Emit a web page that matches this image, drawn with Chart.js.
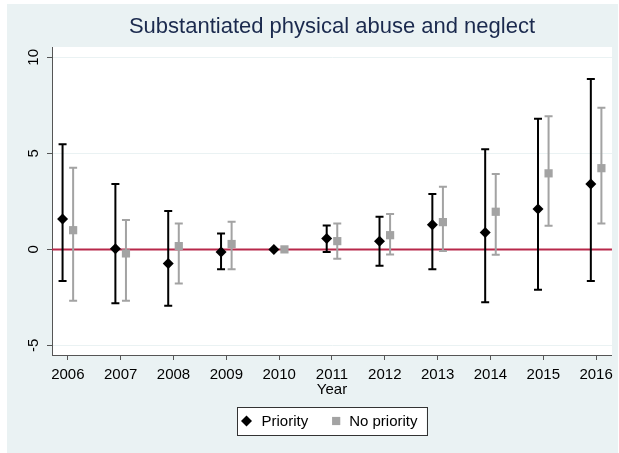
<!DOCTYPE html>
<html>
<head>
<meta charset="utf-8">
<script src="https://cdn.jsdelivr.net/npm/chart.js@4.4.1/dist/chart.umd.min.js"></script>
<style>
  html, body { margin: 0; padding: 0; background: #ffffff; }
  #wrap { width: 619px; height: 453px; }
</style>
</head>
<body>
<div id="wrap"><canvas id="chart" width="619" height="453"></canvas></div>
<script>
// Year-by-year estimates with 95% confidence limits
const years = [2006, 2007, 2008, 2009, 2010, 2011, 2012, 2013, 2014, 2015, 2016];

const priorityEst  = [1.58, 0.03, -0.73, -0.14, 0.00, 0.57, 0.43, 1.28, 0.88, 2.10, 3.40];
const priorityLow  = [-1.65, -2.81, -2.93, -1.04, null, -0.14, -0.85, -1.04, -2.75, -2.10, -1.65];
const priorityHigh = [5.47, 3.40, 2.00, 0.83, null, 1.25, 1.70, 2.88, 5.22, 6.80, 8.87];

const noPriorityEst  = [1.00, -0.21, 0.17, 0.28, 0.00, 0.43, 0.74, 1.42, 1.96, 3.96, 4.23];
const noPriorityLow  = [-2.67, -2.67, -1.77, -1.03, null, -0.49, -0.26, -0.09, -0.28, 1.23, 1.35];
const noPriorityHigh = [4.25, 1.53, 1.35, 1.44, null, 1.35, 1.84, 3.26, 3.92, 6.94, 7.38];

const yTicks = [-5, 0, 5, 10];

const FONT = "'Liberation Sans', Arial, Helvetica, sans-serif";
const GRAPH_BG = '#EAF2F3';
const PRIORITY_COLOR = '#000000';
const NOPRIORITY_COLOR = '#A3A3A3';

// Points are nudged left/right of each year so the two series sit side by side
const points = (est, shift) => years.map((yr, i) => ({ x: yr + shift, y: est[i] }));

// Backgrounds: outer graph region and white plot region
const backdrop = {
  id: 'backdrop',
  beforeDraw(chart) {
    const { ctx, chartArea: a, width, height } = chart;
    ctx.save();
    ctx.fillStyle = '#ffffff';
    ctx.fillRect(0, 0, width, height);
    ctx.fillStyle = GRAPH_BG;
    ctx.fillRect(7, 4, width - 8, height - 4);
    ctx.fillStyle = '#ffffff';
    ctx.fillRect(a.left, a.top, a.right - a.left, a.bottom - a.top);
    ctx.restore();
  }
};

// Zero reference line and confidence-interval whiskers
const whiskers = {
  id: 'whiskers',
  beforeDatasetsDraw(chart) {
    const { ctx, chartArea: a } = chart;
    const xs = chart.scales.x, ys = chart.scales.y;
    ctx.save();
    ctx.beginPath();
    ctx.rect(a.left, a.top, a.right - a.left, a.bottom - a.top);
    ctx.clip();

    const y0 = ys.getPixelForValue(0);
    ctx.strokeStyle = '#B8284A';
    ctx.lineWidth = 2;
    ctx.beginPath();
    ctx.moveTo(a.left, y0);
    ctx.lineTo(a.right, y0);
    ctx.stroke();

    chart.data.datasets.forEach(ds => {
      ctx.strokeStyle = ds.whiskerColor;
      ctx.lineWidth = 2;
      ds.data.forEach((pt, i) => {
        const lo = ds.low[i], hi = ds.high[i];
        if (lo == null || hi == null) return;
        const x = xs.getPixelForValue(pt.x);
        const yl = ys.getPixelForValue(lo);
        const yh = ys.getPixelForValue(hi);
        ctx.beginPath();
        ctx.moveTo(x, yl); ctx.lineTo(x, yh);
        ctx.moveTo(x - 4, yl); ctx.lineTo(x + 4, yl);
        ctx.moveTo(x - 4, yh); ctx.lineTo(x + 4, yh);
        ctx.stroke();
      });
    });
    ctx.restore();
  }
};

// Framed legend centred under the plot region
const framedLegend = {
  id: 'framedLegend',
  afterDraw(chart) {
    const { ctx, chartArea: a } = chart;
    const ds = chart.data.datasets;
    ctx.save();
    ctx.font = `15px ${FONT}`;
    const w1 = ctx.measureText(ds[0].label).width;
    const w2 = ctx.measureText(ds[1].label).width;
    const boxW = 9.5 + 15 + w1 + 28 + 13 + w2 + 9;
    const boxH = 28;
    const left = Math.round((a.left + a.right) / 2 - boxW / 2);
    const top = Math.round(a.bottom + 52);
    const cy = top + boxH / 2;

    ctx.fillStyle = '#ffffff';
    ctx.fillRect(left, top, boxW, boxH);
    ctx.strokeStyle = '#333333';
    ctx.lineWidth = 1;
    ctx.strokeRect(left + 0.5, top + 0.5, Math.round(boxW), boxH);

    const mark = (d, x) => {
      ctx.fillStyle = d.backgroundColor;
      ctx.strokeStyle = d.backgroundColor;
      Chart.helpers.drawPoint(ctx, { pointStyle: d.pointStyle, radius: d.pointRadius, rotation: 0, borderWidth: 0 }, x, cy);
    };
    const m1 = left + 9.5;
    mark(ds[0], m1);
    ctx.fillStyle = '#000000';
    ctx.textBaseline = 'middle';
    ctx.textAlign = 'left';
    const t1 = m1 + 15;
    ctx.fillText(ds[0].label, t1, cy + 1);
    const m2 = t1 + w1 + 28;
    mark(ds[1], m2);
    ctx.fillStyle = '#000000';
    ctx.fillText(ds[1].label, m2 + 13, cy + 1);
    ctx.restore();
  }
};

new Chart(document.getElementById('chart'), {
  type: 'scatter',
  data: {
    datasets: [
      {
        label: 'Priority',
        data: points(priorityEst, -0.1),
        low: priorityLow,
        high: priorityHigh,
        whiskerColor: PRIORITY_COLOR,
        pointStyle: 'rectRot',
        pointRadius: 5.5,
        pointHoverRadius: 5.5,
        backgroundColor: PRIORITY_COLOR,
        borderColor: PRIORITY_COLOR,
        borderWidth: 0
      },
      {
        label: 'No priority',
        data: points(noPriorityEst, 0.1),
        low: noPriorityLow,
        high: noPriorityHigh,
        whiskerColor: NOPRIORITY_COLOR,
        pointStyle: 'rect',
        pointRadius: 5.8,
        pointHoverRadius: 5.8,
        backgroundColor: NOPRIORITY_COLOR,
        borderColor: NOPRIORITY_COLOR,
        borderWidth: 0
      }
    ]
  },
  options: {
    responsive: false,
    animation: false,
    devicePixelRatio: 1,
    layout: { padding: { left: 0, right: 3, top: 0, bottom: 48 } },
    plugins: {
      title: {
        display: true,
        fullSize: false,
        text: 'Substantiated physical abuse and neglect',
        color: '#1B2A4E',
        font: { family: FONT, size: 22, weight: 'normal', lineHeight: 1.2 },
        padding: { top: 14, bottom: 6.6 }
      },
      legend: { display: false },
      tooltip: { enabled: false }
    },
    scales: {
      x: {
        type: 'linear',
        min: 2005.7,
        max: 2016.3,
        afterBuildTicks(scale) { scale.ticks = years.map(v => ({ value: v })); },
        afterFit(scale) { scale.height = 50; },
        ticks: {
          font: { family: FONT, size: 15 },
          color: '#000000',
          padding: 6,
          maxRotation: 0,
          autoSkip: false,
          callback: v => String(v)
        },
        grid: { drawOnChartArea: false, tickLength: 5, tickColor: '#555555', tickWidth: 1 },
        border: { color: '#555555', width: 1 },
        title: {
          display: true,
          text: 'Year',
          font: { family: FONT, size: 15 },
          color: '#000000',
          padding: { top: 0, bottom: 6 }
        }
      },
      y: {
        type: 'linear',
        min: -5.5,
        max: 10.54,
        afterBuildTicks(scale) { scale.ticks = yTicks.map(v => ({ value: v })); },
        afterFit(scale) { scale.width = 52; },
        ticks: {
          font: { family: FONT, size: 15 },
          color: '#000000',
          padding: 5,
          minRotation: 90,
          maxRotation: 90,
          crossAlign: 'center',
          callback: v => String(v)
        },
        grid: { color: GRAPH_BG, lineWidth: 1, tickLength: 5, tickColor: '#555555', tickWidth: 1 },
        border: { color: '#555555', width: 1 }
      }
    }
  },
  plugins: [backdrop, whiskers, framedLegend]
});
</script>
</body>
</html>
